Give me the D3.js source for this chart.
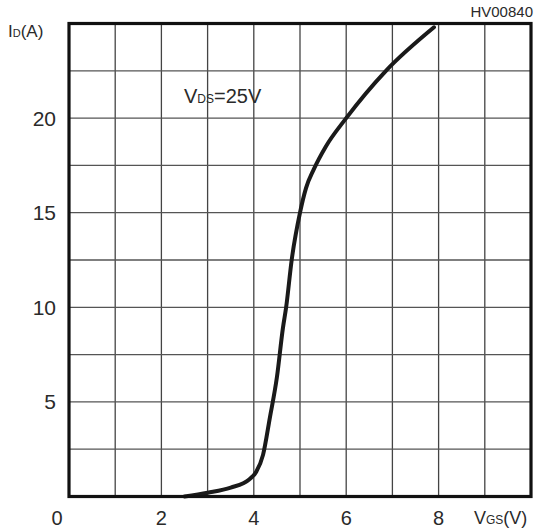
<!DOCTYPE html>
<html><head><meta charset="utf-8">
<script src="https://cdn.jsdelivr.net/npm/d3@7"></script>
<style>
body{margin:0;background:#fff;}
text{font-family:"Liberation Sans",Arial,sans-serif;fill:#2a2a2a;}
</style></head>
<body><svg id="c" width="544" height="530"></svg>
<script>
const vgs = [2.5, 3.0, 3.5, 3.9, 4.05, 4.2, 4.35, 4.5, 4.63, 4.7, 4.82, 5.0, 5.13, 5.3, 5.56, 6.0, 6.86, 7.9];
const id  = [0, 0.2, 0.47, 0.9, 1.3, 2.2, 4.2, 6.3, 8.9, 10.0, 12.5, 15.0, 16.3, 17.3, 18.5, 20.0, 22.5, 24.8];
const xTicks = [0, 2, 4, 6, 8];
const yTicks = [5, 10, 15, 20];
const xGrid = d3.range(0, 11, 1);
const yGrid = d3.range(0, 25.01, 2.5);

const svg = d3.select("#c");
const L = 69, R = 531, T = 23.5, B = 496.5;
const x = d3.scaleLinear().domain([0, 10]).range([L, R]);
const y = d3.scaleLinear().domain([0, 25]).range([B, T]);

const g = svg.append("g");
g.selectAll(".vx").data(xGrid).join("line")
  .attr("x1", d => x(d)).attr("x2", d => x(d)).attr("y1", T).attr("y2", B)
  .attr("stroke", "#444").attr("stroke-width", 1.3);
g.selectAll(".hy").data(yGrid).join("line")
  .attr("y1", d => y(d)).attr("y2", d => y(d)).attr("x1", L).attr("x2", R)
  .attr("stroke", "#555").attr("stroke-width", 1.3);

// curve
const line = d3.line().x(d => x(d[0])).y(d => y(d[1])).curve(d3.curveMonotoneX);
svg.append("path").datum(d3.zip(vgs, id)).attr("d", line)
  .attr("fill", "none").attr("stroke", "#1a1a1a").attr("stroke-width", 4).attr("stroke-linecap", "round");

// frame
svg.append("rect").attr("x", L).attr("y", T).attr("width", R - L).attr("height", B - T)
  .attr("fill", "none").attr("stroke", "#111").attr("stroke-width", 3.2);

// y tick labels
svg.selectAll(".yl").data(yTicks).join("text")
  .attr("x", 56).attr("y", d => y(d)).attr("dy", "0.36em")
  .attr("text-anchor", "end").attr("font-size", 21).text(d => d);
// x tick labels
svg.selectAll(".xl").data(xTicks).join("text")
  .attr("x", d => d === 0 ? 57 : x(d)).attr("y", 525)
  .attr("text-anchor", "middle").attr("font-size", 20).text(d => d);

// axis titles
const yt = svg.append("text").attr("x", 8).attr("y", 37).attr("font-size", 17);
yt.append("tspan").text("I");
yt.append("tspan").attr("font-size", 11).text("D");
yt.append("tspan").text("(A)");

const xt = svg.append("text").attr("x", 474).attr("y", 524).attr("font-size", 18);
xt.append("tspan").text("V");
xt.append("tspan").attr("font-size", 12).text("GS");
xt.append("tspan").text("(V)");

const vt = svg.append("text").attr("x", 184).attr("y", 103).attr("font-size", 20);
vt.append("tspan").text("V");
vt.append("tspan").attr("font-size", 12).text("DS");
vt.append("tspan").text("=25V");

svg.append("text").attr("x", 533).attr("y", 17).attr("text-anchor", "end")
  .attr("font-size", 15).text("HV00840");
</script></body></html>
